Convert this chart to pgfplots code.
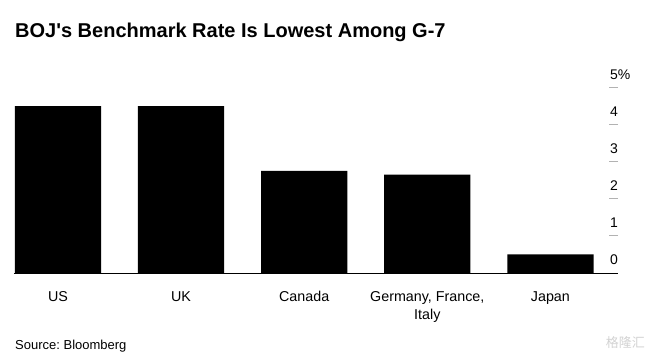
\documentclass[border=0pt]{standalone}
\usepackage{pgfplots}
\pgfplotsset{compat=1.18}
\usepackage{fontspec}
\setmainfont{Liberation Sans}
\newfontfamily\cjk{Noto Sans CJK SC}
\frenchspacing
\begin{document}
\begin{tikzpicture}
\path[use as bounding box] (0,0) rectangle (651pt,356pt);
\node[anchor=base west, inner sep=0pt, font=\fontsize{20}{24}\selectfont\bfseries] at (15pt,318pt) {BOJ\textquotesingle s Benchmark Rate Is Lowest Among G-7};
\node[anchor=base west, inner sep=0pt, font=\fontsize{13}{16}\selectfont] at (15pt,6pt) {Source: Bloomberg};
\node[anchor=base east, inner sep=0pt, text=gray!35, font=\fontsize{13}{16}\selectfont\cjk] at (645pt,8pt) {格隆汇};
\begin{axis}[
 at={(14pt,83pt)}, anchor=south west,
 scale only axis, width=604pt, height=185.5pt,
 xmin=-0.357, xmax=4.549, ymin=0, ymax=5,
 axis x line*=bottom, axis y line*=right,
 axis line style={-},
 y axis line style={draw=none},
 x axis line style={black, line width=0.8pt},
 xtick={0,...,4},
 xticklabels={US,UK,Canada,{Germany, France,\\Italy},Japan},
 xticklabel style={align=center, anchor=north, inner sep=0pt, yshift=-9pt, font=\fontsize{14.3}{18}\selectfont},
 major x tick style={draw=none},
 ytick={1,...,5},
 yticklabels={1,2,3,4,5\%},
 extra y ticks={0},
 extra y tick labels={0},
 extra y tick style={major tick length=0pt},
 yticklabel pos=right,
 tick align=inside,
 major tick length=9pt,
 major y tick style={gray!60, line width=0.8pt},
 yticklabel style={anchor=base west, inner sep=0pt, xshift=-8pt, yshift=8pt, font=\fontsize{14}{16}\selectfont},
 ybar, bar width=0.7,
]
\addplot[fill=black, draw=none] coordinates {(0,4.5) (1,4.5) (2,2.75) (3,2.65) (4,0.5)};
\end{axis}
\end{tikzpicture}
\end{document}
